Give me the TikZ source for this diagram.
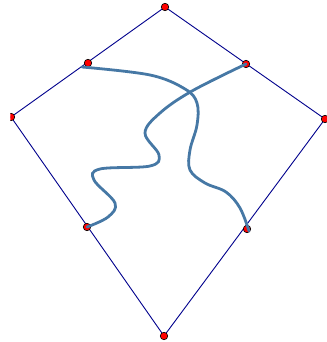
\documentclass[tikz,border=0pt]{standalone}
\begin{document}
\begin{tikzpicture}[x=1pt,y=-1pt,
  kite/.style={draw={rgb,255:red,0;green,0;blue,140},line width=0.9pt,line join=miter},
  dot/.style={circle,draw=black,fill=red,line width=0.6pt,inner sep=0pt,minimum size=7.5pt},
  wave/.style={draw={rgb,255:red,70;green,120;blue,165},line width=2.8pt,line cap=round}]
\useasboundingbox (0,0) rectangle (326,342);
\coordinate (T) at (165,7);
\coordinate (L) at (11,117);
\coordinate (R) at (325,119);
\coordinate (B) at (164,336);
\coordinate (S1) at (82,67);
\coordinate (E1) at (249,231);
\draw[kite] (T) -- (L) -- (B) -- (R) -- cycle;
\begin{scope}
\clip (10.3,100) rectangle (20,135);
\node[dot] (dL) at (L) {};
\end{scope}
\node[dot] (dR) at (R) {};
\node[dot] (dT) at (T) {};
\node[dot] (P1) at (88,63) {};
\node[dot] (P2) at (246,64) {};
\node[dot] (P3) at (87,227) {};
\node[dot] (P4) at (247,229) {};
\node[dot] (dB) at (B) {};
\draw[wave] plot[smooth,tension=0.6] coordinates {(S1) (150,75) (185,89) (197,103) (197,125) (190,150) (190,170) (205,183) (226,192) (240,208) (E1)};
\draw[wave] plot[smooth,tension=0.6] coordinates {(P2.center) (192,91) (160,113) (145,133) (159,155) (150,166) (100,169) (94,180) (115,203) (108,217) (P3.center)};
\end{tikzpicture}
\end{document}
